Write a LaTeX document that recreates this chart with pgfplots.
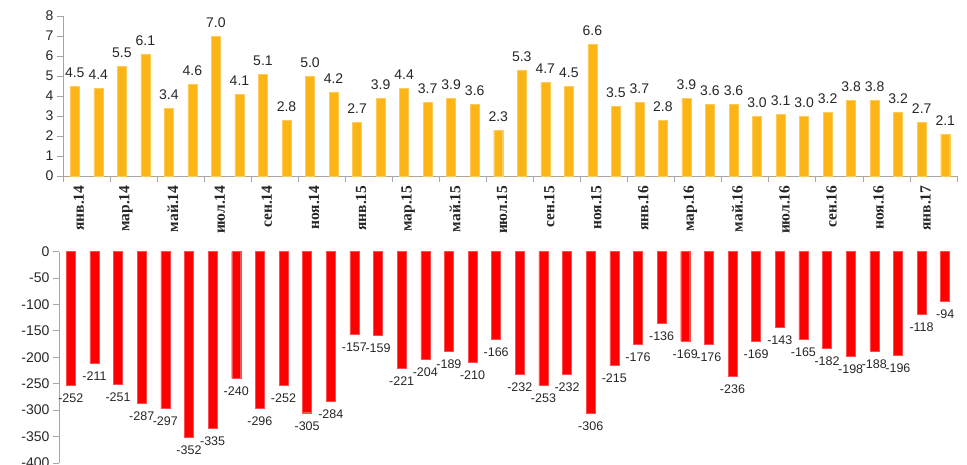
\documentclass[border=0pt]{standalone}
\usepackage{fontspec}
\setmainfont{Liberation Sans}
\newfontfamily\ruserif{Liberation Serif}
\usepackage{pgfplots}
\pgfplotsset{compat=1.18}
\definecolor{barY}{HTML}{FDB515}
\definecolor{barR}{HTML}{FF0000}
\definecolor{axgray}{HTML}{A6A6A6}
\definecolor{txt}{HTML}{262626}

\pgfplotstableread{
x y
0 4.5
1 4.4
2 5.5
3 6.1
4 3.4
5 4.6
6 7.0
7 4.1
8 5.1
9 2.8
10 5.0
11 4.2
12 2.7
13 3.9
14 4.4
15 3.7
16 3.9
17 3.6
18 2.3
19 5.3
20 4.7
21 4.5
22 6.6
23 3.5
24 3.7
25 2.8
26 3.9
27 3.6
28 3.6
29 3.0
30 3.1
31 3.0
32 3.2
33 3.8
34 3.8
35 3.2
36 2.7
37 2.1
}\topdata

\pgfplotstableread{
x y
0 -252
1 -211
2 -251
3 -287
4 -297
5 -352
6 -335
7 -240
8 -296
9 -252
10 -305
11 -284
12 -157
13 -159
14 -221
15 -204
16 -189
17 -210
18 -166
19 -232
20 -253
21 -232
22 -306
23 -215
24 -176
25 -136
26 -169
27 -176
28 -236
29 -169
30 -143
31 -165
32 -182
33 -198
34 -188
35 -196
36 -118
37 -94
}\botdata

\begin{document}
\begin{tikzpicture}
\useasboundingbox (0pt,0pt) rectangle (967pt,464pt);
\clip (0pt,0pt) rectangle (967pt,464pt);
\begin{axis}[
  at={(63pt,288pt)}, anchor=south west,
  scale only axis, width=894pt, height=160pt,
  xmin=-0.5, xmax=37.5, ymin=0, ymax=8,
  axis x line*=bottom, axis y line*=left,
  axis line style={draw=axgray, line width=0.8pt},
  ybar, bar width=9pt,
  ytick={0,1,...,8},
  tick align=outside, major tick length=6pt, minor tick length=6pt,
  every tick/.style={draw=axgray, line width=0.8pt},
  xtick={0,2,...,36},
  xticklabels={янв.14,мар.14,май.14,июл.14,сен.14,ноя.14,янв.15,мар.15,май.15,июл.15,сен.15,ноя.15,янв.16,мар.16,май.16,июл.16,сен.16,ноя.16,янв.17},
  major x tick style={draw=none},
  minor xtick={-0.5,1.5,...,37.5},
  /pgf/number format/assume math mode=true,
  yticklabel style={font=\fontsize{14}{14}\selectfont, text=txt},
  xticklabel style={rotate=90, anchor=east, font=\ruserif\bfseries\fontsize{15.5}{15.5}\selectfont, text=txt, yshift=-4pt},
  nodes near coords={\pgfmathprintnumber[fixed,fixed zerofill,precision=1,assume math mode=true]{\pgfplotspointmeta}},
  every node near coord/.append style={font=\fontsize{14}{14}\selectfont, text=txt, anchor=south, yshift=5pt},
  clip=false,
]
\addplot[fill=barY, draw=barY!70!white] table[x=x,y=y]{\topdata};
\end{axis}

\begin{axis}[
  at={(59pt,1.1pt)}, anchor=south west,
  scale only axis, width=898pt, height=211.2pt,
  xmin=-0.5, xmax=37.5, ymin=-400, ymax=0,
  axis x line=none, axis y line*=left,
  axis line style={draw=axgray, line width=0.8pt},
  ybar, bar width=9pt,
  ytick={-400,-350,...,0},
  tick align=outside, major tick length=6pt,
  every tick/.style={draw=axgray, line width=0.8pt},
  /pgf/number format/assume math mode=true,
  yticklabel style={font=\fontsize{14}{14}\selectfont, text=txt},
  nodes near coords={\pgfmathprintnumber[fixed,precision=0,assume math mode=true]{\pgfplotspointmeta}},
  every node near coord/.append style={font=\fontsize{12.5}{12.5}\selectfont, text=txt, anchor=north, yshift=-5pt},
  clip=false,
]
\addplot[fill=barR, draw=barR!70!white] table[x=x,y=y]{\botdata};
\end{axis}
\end{tikzpicture}
\end{document}
